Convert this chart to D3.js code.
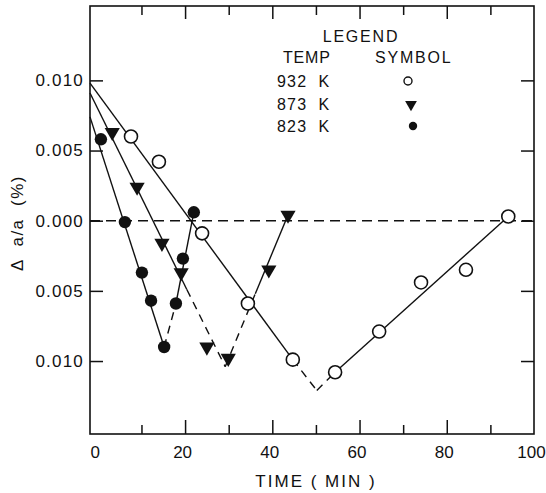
<!DOCTYPE html>
<html>
<head>
<meta charset="utf-8">
<script src="https://cdn.jsdelivr.net/npm/d3@7"></script>
<style>
  body { margin: 0; background: #fff; }
  text { font-family: "Liberation Sans", Arial, sans-serif; fill: #111; white-space: pre; }
</style>
</head>
<body>
<svg id="chart" width="546" height="493"></svg>
<script>
// x domain starts a little left of 0, as in the original plot
const xMin = -1.8;
const xMax = 100;
const xLabels = [0, 20, 40, 60, 80, 100];
const xMajorTicks = [20, 40, 60, 80];
const xMinorTicks = [10, 30, 50, 70, 90];
const yTicks = [0.010, 0.005, 0.000, -0.005, -0.010];
const yTickLabels = ['0.010', '0.005', '0.000', '0.005', '0.010'];

// measured points
const times932 = [7.6, 14.0, 23.9, 34.4, 44.7, 54.4, 64.5, 74.1, 84.4, 94.1];
const vals932 = [0.0060, 0.0042, -0.0009, -0.0059, -0.0099, -0.0108, -0.0079, -0.0044, -0.0035, 0.0003];
const times873 = [3.3, 9.0, 14.7, 19.1, 25.0, 29.9, 39.2, 43.6];
const vals873 = [0.0063, 0.0024, -0.0016, -0.0037, -0.0090, -0.0098, -0.0035, 0.0004];
const times823 = [0.7, 6.2, 10.1, 12.2, 15.2, 17.9, 19.5, 22.0];
const vals823 = [0.0058, -0.0001, -0.0037, -0.0057, -0.0090, -0.0059, -0.0027, 0.0006];

// fitted lines (vertices) and whether each segment is dashed
const fit932 = [[xMin, 0.0098], [44.7, -0.0099], [50.2, -0.0121], [54.4, -0.0108], [94.1, 0.0003]];
const dash932 = [false, true, true, false];
const fit873 = [[xMin, 0.0091], [20.4, -0.0049], [29.2, -0.0104], [36.1, -0.0052], [43.6, 0.0004]];
const dash873 = [false, true, true, false];
const fit823 = [[xMin, 0.0074], [15.2, -0.0090], [17.9, -0.0059], [22.0, 0.0006]];
const dash823 = [false, true, false];

const legendTemps = ['932  K', '873  K', '823  K'];
const legendSymbols = ['open', 'tri', 'dot'];

const svg = d3.select('#chart');
const m = { left: 90, right: 534, top: 6, bottom: 434 };

const x = d3.scaleLinear().domain([xMin, xMax]).range([m.left, m.right]);
const y = d3.scaleLinear().domain([-0.0152, 0.0153]).range([m.bottom, m.top]);

// frame
svg.append('rect')
  .attr('x', m.left).attr('y', m.top)
  .attr('width', m.right - m.left).attr('height', m.bottom - m.top)
  .attr('fill', 'none').attr('stroke', '#111').attr('stroke-width', 1.6);

function styleAxis(g) {
  g.select('.domain').remove();
  g.selectAll('line').attr('stroke', '#111').attr('stroke-width', 1.5);
}

// tick marks, all pointing inward
svg.append('g').attr('transform', `translate(0,${m.bottom})`)
  .call(d3.axisBottom(x).tickValues(xMajorTicks).tickSize(-14).tickFormat(''))
  .call(styleAxis);
svg.append('g').attr('transform', `translate(0,${m.bottom})`)
  .call(d3.axisBottom(x).tickValues(xMinorTicks).tickSize(-9).tickFormat(''))
  .call(styleAxis);
svg.append('g').attr('transform', `translate(0,${m.top})`)
  .call(d3.axisTop(x).tickValues(xMajorTicks).tickSize(-13).tickFormat(''))
  .call(styleAxis);
svg.append('g').attr('transform', `translate(0,${m.top})`)
  .call(d3.axisTop(x).tickValues(xMinorTicks).tickSize(-9).tickFormat(''))
  .call(styleAxis);
svg.append('g').attr('transform', `translate(${m.right},0)`)
  .call(d3.axisRight(y).tickValues(yTicks).tickSize(-13).tickFormat(''))
  .call(styleAxis);

// x labels
const xg = svg.append('g').attr('transform', `translate(0,${m.bottom})`)
  .call(d3.axisBottom(x).tickValues(xLabels).tickSize(0).tickPadding(12))
  .call(styleAxis);
xg.selectAll('text').attr('font-size', 17).attr('font-family', null).attr('dx', -3);

// y axis
const yg = svg.append('g').attr('transform', `translate(${m.left},0)`)
  .call(d3.axisLeft(y).tickValues(yTicks).tickSize(-13).tickPadding(6)
    .tickFormat((d, i) => yTickLabels[i]))
  .call(styleAxis);
yg.selectAll('text').attr('font-size', 17).attr('font-family', null)
  .attr('letter-spacing', 1.2);

// axis titles
svg.append('text')
  .attr('x', 316).attr('y', 487)
  .attr('text-anchor', 'middle').attr('font-size', 17)
  .attr('letter-spacing', 2)
  .text('TIME ( MIN )');
svg.append('text')
  .attr('transform', 'translate(23,223) rotate(-90)')
  .attr('text-anchor', 'middle').attr('font-size', 17)
  .attr('letter-spacing', 1.5)
  .text('Δ  a/a  (%)');

// zero line
svg.append('line')
  .attr('x1', m.left).attr('x2', m.right)
  .attr('y1', y(0)).attr('y2', y(0))
  .attr('stroke', '#111').attr('stroke-width', 1.4)
  .attr('stroke-dasharray', '10,6');

// fit lines
function drawFit(pts, dashes) {
  for (let i = 0; i < pts.length - 1; i++) {
    svg.append('line')
      .attr('x1', x(pts[i][0])).attr('y1', y(pts[i][1]))
      .attr('x2', x(pts[i + 1][0])).attr('y2', y(pts[i + 1][1]))
      .attr('stroke', '#111').attr('stroke-width', 1.4)
      .attr('stroke-dasharray', dashes[i] ? '8,6' : null);
  }
}
drawFit(fit932, dash932);
drawFit(fit873, dash873);
drawFit(fit823, dash823);

// markers
const tri = d3.symbol().type(d3.symbolTriangle).size(100);

svg.selectAll('.open')
  .data(times932.map((t, i) => [t, vals932[i]]))
  .enter().append('circle')
  .attr('cx', d => x(d[0])).attr('cy', d => y(d[1]))
  .attr('r', 6.5)
  .attr('fill', '#fff').attr('stroke', '#111').attr('stroke-width', 1.6);

svg.selectAll('.tri')
  .data(times873.map((t, i) => [t, vals873[i]]))
  .enter().append('path')
  .attr('d', tri)
  .attr('transform', d => `translate(${x(d[0])},${y(d[1])}) rotate(180)`)
  .attr('fill', '#111');

svg.selectAll('.dot')
  .data(times823.map((t, i) => [t, vals823[i]]))
  .enter().append('circle')
  .attr('cx', d => x(d[0])).attr('cy', d => y(d[1]))
  .attr('r', 6.2)
  .attr('fill', '#111');

// legend
const lg = svg.append('g').attr('font-size', 16).attr('letter-spacing', 1.8);
lg.append('text').attr('x', 361).attr('y', 42).attr('text-anchor', 'middle').text('LEGEND');
lg.append('text').attr('x', 283).attr('y', 63).attr('letter-spacing', 0.8).text('TEMP');
lg.append('text').attr('x', 375).attr('y', 63).text('SYMBOL');

legendTemps.forEach((label, i) => {
  const ty = 87 + i * 22.5;
  lg.append('text').attr('x', 277).attr('y', ty).attr('letter-spacing', 1.2).text(label);
  const cy = ty - 6;
  if (legendSymbols[i] === 'open') {
    lg.append('circle').attr('cx', 408).attr('cy', cy).attr('r', 4)
      .attr('fill', '#fff').attr('stroke', '#111').attr('stroke-width', 1.4);
  } else if (legendSymbols[i] === 'tri') {
    lg.append('path').attr('d', d3.symbol().type(d3.symbolTriangle).size(60))
      .attr('transform', `translate(411,${cy + 1}) rotate(180)`).attr('fill', '#111');
  } else {
    lg.append('circle').attr('cx', 413).attr('cy', cy).attr('r', 4.2).attr('fill', '#111');
  }
});
</script>
</body>
</html>
